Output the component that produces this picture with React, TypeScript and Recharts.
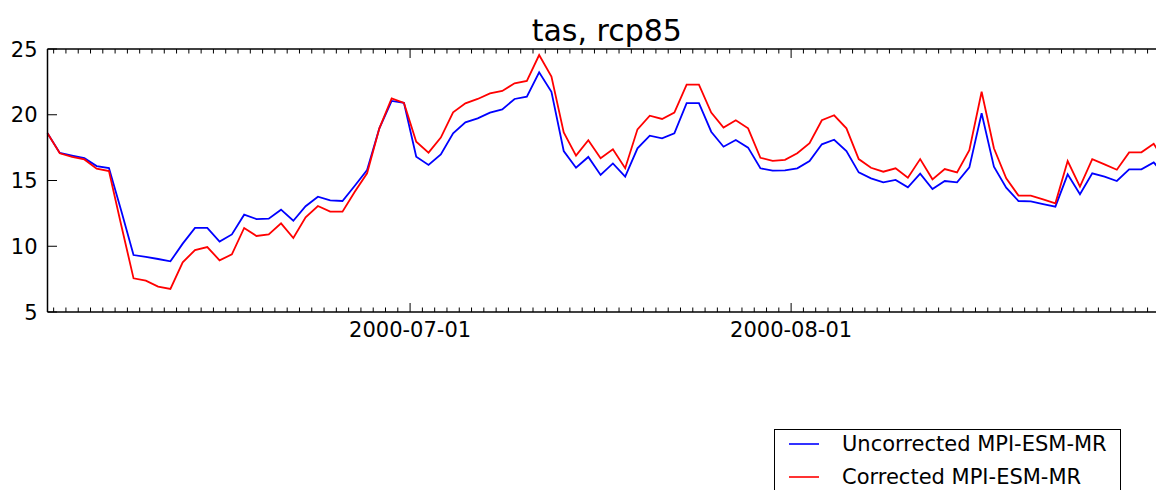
import { LineChart, Line, XAxis, YAxis, Legend, Label } from 'recharts'

// Daily means at 12:00, starting 2000-06-01. x is "days since 2000-06-01 00:00".
const UNCORRECTED = [
  18.6, 17.1, 16.9, 16.7, 16.1, 15.95, 12.7, 9.33, 9.2, 9.03,
  8.85, 10.2, 11.4, 11.4, 10.35, 10.9, 12.4, 12.07, 12.1, 12.78,
  11.94, 13.04, 13.77, 13.49, 13.44, 14.6, 15.8, 18.97, 21.05, 20.9,
  16.81, 16.18, 16.99, 18.59, 19.42, 19.73, 20.16, 20.41, 21.2, 21.37,
  23.23, 21.75, 17.24, 15.97, 16.79, 15.42, 16.3, 15.29, 17.45, 18.41,
  18.21, 18.59, 20.89, 20.89, 18.71, 17.57, 18.08, 17.5, 15.93, 15.75,
  15.77, 15.93, 16.48, 17.75, 18.1, 17.24, 15.62, 15.16, 14.86, 15.04,
  14.48, 15.52, 14.35, 14.96, 14.86, 16.0, 20.11, 16.05, 14.45, 13.44,
  13.41, 13.21, 13.01, 15.47, 13.95, 15.55, 15.29, 14.96, 15.85, 15.85,
  16.38, 15.3,
]

const CORRECTED = [
  18.6, 17.07, 16.8, 16.6, 15.9, 15.72, 11.6, 7.56, 7.38, 6.93,
  6.75, 8.78, 9.71, 9.94, 8.93, 9.38, 11.39, 10.78, 10.9, 11.74,
  10.63, 12.2, 13.06, 12.63, 12.63, 14.15, 15.55, 18.97, 21.25, 20.9,
  17.95, 17.12, 18.26, 20.19, 20.87, 21.2, 21.63, 21.81, 22.39, 22.57,
  24.54, 22.9, 18.66, 16.89, 18.06, 16.69, 17.37, 15.93, 18.89, 19.93,
  19.68, 20.16, 22.29, 22.29, 20.16, 19.02, 19.58, 18.97, 16.73, 16.5,
  16.57, 17.07, 17.83, 19.58, 19.96, 18.97, 16.63, 15.97, 15.67, 15.93,
  15.21, 16.63, 15.09, 15.87, 15.62, 17.3, 21.75, 17.45, 15.16, 13.85,
  13.85, 13.57, 13.27, 16.48, 14.53, 16.63, 16.23, 15.82, 17.14, 17.14,
  17.8, 16.3,
]

const SERIES_NAMES = ['Uncorrected MPI-ESM-MR', 'Corrected MPI-ESM-MR']
const Y_TICKS = [5, 10, 15, 20, 25]
// month starts get a long tick and a label, every other midnight a short tick
const MONTH_LABELS: Record<number, string> = { 30: '2000-07-01', 61: '2000-08-01' }
const DAY_TICKS = Array.from({ length: 91 }, (_, k) => k + 1)

const data = UNCORRECTED.map((u, i) => ({
  day: i + 0.5,
  uncorrected: u,
  corrected: CORRECTED[i],
}))

const FONT = '"DejaVu Sans", sans-serif'
const TICK_FONT = 21
const X_DOMAIN: [number, number] = [0.5, 91.5]

function BottomTick({ x, y, payload }: any) {
  const label = MONTH_LABELS[payload.value]
  return (
    <g>
      <line x1={x} x2={x} y1={y} y2={y - (label ? 9 : 4.5)} stroke="#000" strokeWidth={1} />
      {label && (
        <text x={x} y={y + 25} textAnchor="middle" fontFamily={FONT} fontSize={TICK_FONT} fill="#000">
          {label}
        </text>
      )}
    </g>
  )
}

function TopTick({ x, y, payload }: any) {
  const major = MONTH_LABELS[payload.value] !== undefined
  return <line x1={x} x2={x} y1={y} y2={y + (major ? 9 : 4.5)} stroke="#000" strokeWidth={1} />
}

function LeftTick({ x, y, payload }: any) {
  return (
    <g>
      <line x1={x} x2={x + 9.5} y1={y} y2={y} stroke="#000" strokeWidth={1} />
      <text x={x - 10} y={y + 7.5} textAnchor="end" fontFamily={FONT} fontSize={TICK_FONT} fill="#000">
        {payload.value}
      </text>
    </g>
  )
}

function RightTick({ x, y }: any) {
  return <line x1={x} x2={x - 9.5} y1={y} y2={y} stroke="#000" strokeWidth={1} />
}

function LegendBox({ payload }: any) {
  const items = [...(payload ?? [])].sort(
    (a: any, b: any) => SERIES_NAMES.indexOf(a.value) - SERIES_NAMES.indexOf(b.value),
  )
  return (
    <div
      style={{
        position: 'relative',
        width: 347,
        height: 80,
        boxSizing: 'border-box',
        border: '1px solid #000',
        background: '#fff',
        fontFamily: FONT,
        fontSize: TICK_FONT,
        color: '#000',
      }}
    >
      {items.map((p: any, k: number) => (
        <div
          key={p.value}
          style={{ position: 'absolute', left: 0, top: -2 + k * 33, height: 32, display: 'flex', alignItems: 'center', whiteSpace: 'nowrap' }}
        >
          <svg width={67} height={4} style={{ display: 'block' }}>
            <line x1={14} x2={44} y1={2} y2={2} stroke={p.color} strokeWidth={1.6} />
          </svg>
          <span>{p.value}</span>
        </div>
      ))}
    </div>
  )
}

const axisLine = { stroke: '#000', strokeWidth: 1.5 }

export default function App() {
  return (
    <div style={{ position: 'absolute', left: 0, top: 0, width: 1156, height: 490, overflow: 'hidden', background: '#fff' }}>
      <LineChart width={1180} height={490} data={data} margin={{ top: 48, right: 13, bottom: 177, left: 46.5 }}>
        <XAxis
          dataKey="day"
          type="number"
          domain={X_DOMAIN}
          ticks={DAY_TICKS}
          interval={0}
          height={1}
          tickSize={0}
          tickMargin={0}
          tickLine={false}
          axisLine={axisLine}
          tick={BottomTick}
        />
        <XAxis
          xAxisId="top"
          orientation="top"
          dataKey="day"
          type="number"
          domain={X_DOMAIN}
          ticks={DAY_TICKS}
          interval={0}
          height={1}
          tickSize={0}
          tickMargin={0}
          tickLine={false}
          axisLine={axisLine}
          tick={TopTick}
        >
          <Label value="tas, rcp85" position="top" offset={7} style={{ fontFamily: FONT, fontSize: 30, fill: '#000' }} />
        </XAxis>
        <YAxis
          type="number"
          domain={[5, 25]}
          ticks={Y_TICKS}
          interval={0}
          width={1}
          tickSize={0}
          tickMargin={0}
          tickLine={false}
          axisLine={axisLine}
          tick={LeftTick}
        />
        <YAxis
          yAxisId="right"
          orientation="right"
          type="number"
          domain={[5, 25]}
          ticks={Y_TICKS}
          interval={0}
          width={1}
          tickSize={0}
          tickMargin={0}
          tickLine={false}
          axisLine={axisLine}
          tick={RightTick}
        />
        <Line
          type="linear"
          dataKey="uncorrected"
          name={SERIES_NAMES[0]}
          stroke="#0000ff"
          strokeWidth={1.8}
          dot={false}
          isAnimationActive={false}
        />
        <Line
          type="linear"
          dataKey="corrected"
          name={SERIES_NAMES[1]}
          stroke="#ff0000"
          strokeWidth={1.8}
          dot={false}
          isAnimationActive={false}
        />
        <Legend
          layout="horizontal"
          verticalAlign="middle"
          align="center"
          content={LegendBox}
          wrapperStyle={{ position: 'absolute', left: 774, top: 429, width: 347 }}
        />
      </LineChart>
    </div>
  )
}
